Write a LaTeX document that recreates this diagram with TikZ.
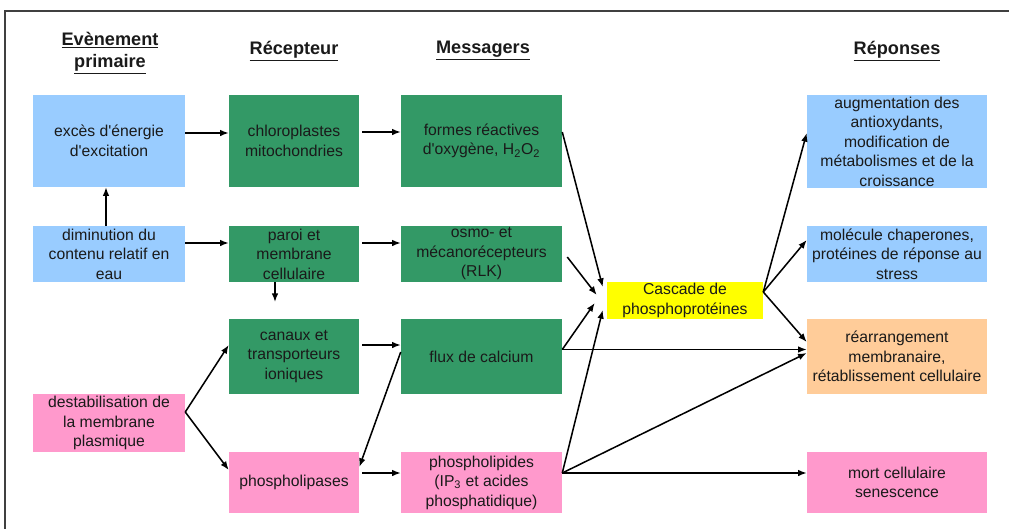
\documentclass[tikz,border=0pt]{standalone}
\usepackage{fontspec}
\setmainfont{Liberation Sans}[Ligatures=TeXOff]
\usetikzlibrary{arrows.meta,calc}

\definecolor{bleuclair}{HTML}{99CCFF}
\definecolor{vert}{HTML}{339966}
\definecolor{rose}{HTML}{FF99CC}
\definecolor{peche}{HTML}{FFCC99}
\definecolor{jaune}{HTML}{FFFF00}
\definecolor{texte}{HTML}{1A1A1A}

\newcommand{\boxfont}{\fontsize{11.8}{14.6}\selectfont}
\newcommand{\headfont}{\fontsize{13.6}{16.5}\selectfont\bfseries}

\begin{document}
\begin{tikzpicture}[x=0.75pt, y=-0.75pt,
    box/.style={rectangle, align=center, inner sep=0pt, text=texte, font=\boxfont},
    blueBox/.style={box, fill=bleuclair},
    greenBox/.style={box, fill=vert},
    pinkBox/.style={box, fill=rose},
    orangeBox/.style={box, fill=peche},
    yellowBox/.style={box, fill=jaune},
    head/.style={align=center, inner sep=0pt, text=texte, font=\headfont},
    fleche/.style={->, >={Latex[length=6.5pt,width=5pt]}, line width=1.15pt, black}]

        % Frame and size
        \useasboundingbox (0,0) rectangle (1009,529);
        \draw[line width=1pt, black!75] (1009,11) -- (5,11) -- (5,529);

        % Column titles
        \node[head] (t1) at (110,53) {\underline{Evènement}\\\underline{primaire}};
        \node[head] (t2) at (294,51) {\underline{Récepteur}};
        \node[head] (t3) at (483,51) {\underline{Messagers}};
        \node[head] (t4) at (897,51) {\underline{Réponses}};

        % Primary events
        \node[blueBox, minimum width=114pt, minimum height=69pt] (exces) at (109,141) {excès d'énergie\\d'excitation};
        \node[blueBox, minimum width=114pt, minimum height=42pt] (dimin) at (109,254) {diminution du\\contenu relatif en\\eau};
        \node[pinkBox, minimum width=114pt, minimum height=43.5pt] (destab) at (109,423) {destabilisation de\\la membrane\\plasmique};

        % Receptors
        \node[greenBox, minimum width=97.5pt, minimum height=69pt] (chloro) at (294,141) {chloroplastes\\mitochondries};
        \node[greenBox, minimum width=97.5pt, minimum height=42pt] (paroi) at (294,254) {paroi et\\membrane\\cellulaire};
        \node[greenBox, minimum width=97.5pt, minimum height=56.25pt] (canaux) at (294,356.5) {canaux et\\transporteurs\\ioniques};
        \node[pinkBox, minimum width=97.5pt, minimum height=45.75pt] (lipases) at (294,482.5) {phospholipases};

        % Messengers
        \node[greenBox, minimum width=120.75pt, minimum height=69pt] (formes) at (481.5,141) {formes réactives\\d'oxygène, H\textsubscript{2}O\textsubscript{2}};
        \node[greenBox, minimum width=120.75pt, minimum height=42pt] (osmo) at (481.5,254) {osmo- et\\mécanorécepteurs\\(RLK)};
        \node[greenBox, minimum width=120.75pt, minimum height=56.25pt] (flux) at (481.5,356.5) {flux de calcium};
        \node[pinkBox, minimum width=120.75pt, minimum height=45.75pt] (lipides) at (481.5,482.5) {phospholipides\\(IP\textsubscript{3} et acides\\phosphatidique)};

        % Cascade
        \node[yellowBox, minimum width=117pt, minimum height=27.75pt] (cascade) at (685,300.5) {Cascade de\\phosphoprotéines};

        % Responses
        \node[blueBox, minimum width=135pt, minimum height=69.75pt] (augm) at (897,141.5) {augmentation des\\antioxydants,\\modification de\\métabolismes et de la\\croissance};
        \node[blueBox, minimum width=135pt, minimum height=42pt] (molec) at (897,254) {molécule chaperones,\\protéines de réponse au\\stress};
        \node[orangeBox, minimum width=135pt, minimum height=56.25pt] (rearr) at (897,356.5) {réarrangement\\membranaire,\\rétablissement cellulaire};
        \node[pinkBox, minimum width=135pt, minimum height=45.75pt] (mort) at (897,482.5) {mort cellulaire\\senescence};

        % Free end below the wall
        \coordinate (basparoi) at (275,302);

        % Arrows, left part
        \draw[fleche] ($(exces.east)+(0,-8)$) -- ($(chloro.west)+(0,-8)$);
        \draw[fleche] ($(chloro.east)+(3,-9)$) -- ($(formes.west)+(0,-9)$);
        \draw[fleche] ($(dimin.north)+(-3,0)$) -- ($(exces.south)+(-3,0)$);
        \draw[fleche] ($(dimin.east)+(0,-11)$) -- ($(paroi.west)+(0,-11)$);
        \draw[fleche] ($(paroi.east)+(3,-11)$) -- ($(osmo.west)+(0,-11)$);
        \draw[fleche] (paroi.south -| basparoi) -- (basparoi);
        \draw[fleche] ($(destab.east)+(0,-11)$) -- ($(canaux.west)+(0,-11.5)$);
        \draw[fleche] ($(destab.east)+(0,-11)$) -- ($(lipases.west)+(0,-12.5)$);
        \draw[fleche] ($(canaux.east)+(3,-11.5)$) -- ($(flux.west)+(0,-11.5)$);
        \draw[fleche] ($(flux.west)+(0,-4.5)$) -- ($(lipases.east)+(0,-15.5)$);
        \draw[fleche] ($(lipases.east)+(3,-9.5)$) -- ($(lipides.west)+(0,-9.5)$);

        % Arrows to the cascade
        \draw[fleche] ($(formes.east)+(0,-9)$) -- ($(cascade.west)+(-4,-13.5)$);
        \draw[fleche] ($(osmo.east)+(5,3)$) -- ($(cascade.west)+(-10,-5.5)$);
        \draw[fleche] ($(flux.east)+(0,-7)$) -- ($(cascade.west)+(-12,2.5)$);
        \draw[fleche] ($(lipides.east)+(0,-9.5)$) -- ($(cascade.west)+(-4,9.5)$);

        % Arrows to the responses
        \draw[fleche] ($(cascade.east)+(0,-8.5)$) -- ($(augm.west)+(0,-8.5)$);
        \draw[fleche] ($(cascade.east)+(0,-8.5)$) -- ($(molec.west)+(0,-14)$);
        \draw[fleche] ($(cascade.east)+(0,-8.5)$) -- ($(rearr.west)+(0,-14.5)$);
        \draw[fleche] ($(flux.east)+(0,-7)$) -- ($(rearr.west)+(0,-7)$);
        \draw[fleche] ($(lipides.east)+(0,-9.5)$) -- ($(rearr.west)+(0,-3.5)$);
        \draw[fleche] ($(lipides.east)+(0,-9.5)$) -- ($(mort.west)+(0,-9.5)$);
      \end{tikzpicture}
\end{document}
